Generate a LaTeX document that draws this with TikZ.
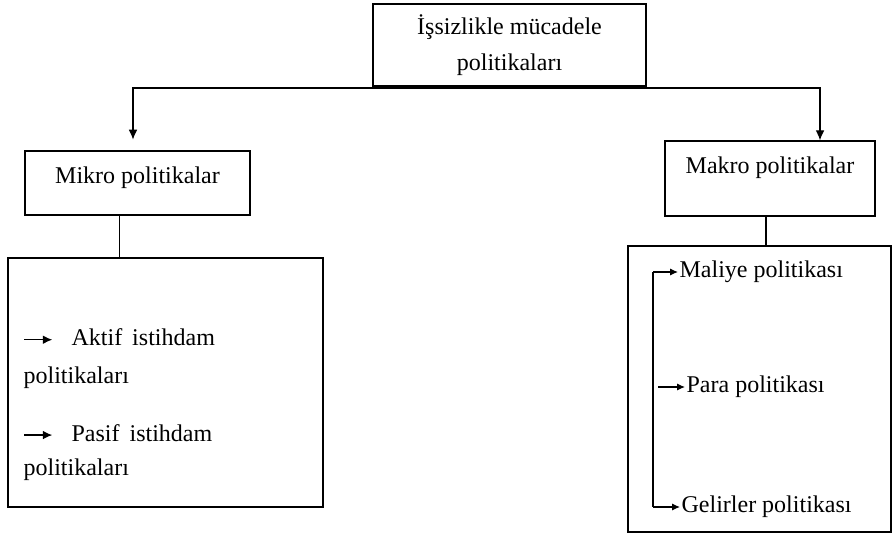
\documentclass[tikz,border=0pt]{standalone}
\usepackage{fontspec}
\setmainfont{Liberation Serif}
\usepackage{tikz}
\usetikzlibrary{calc}
\usetikzlibrary{positioning, arrows.meta}

\tikzset{
  box/.style={draw, line width=0.9pt, inner sep=0pt, align=center},
  item/.style={anchor=west, inner sep=1pt, align=left},
  arrow/.style={-{Latex[length=7.5pt,width=6.5pt]}, line width=0.9pt},
  itemarrow/.style={-{Latex[length=6pt,width=5.5pt]}, line width=0.9pt}
}
\newcommand{\listarrow}{\tikz[baseline=-4.5pt]\draw[-{Latex[length=7pt,width=6.5pt]}, line width=1pt] (0pt,0pt) -- (21pt,0pt);}

\begin{document}
\begin{tikzpicture}[x=0.75pt,y=0.75pt,yscale=-1,xscale=1,font=\fontsize{18}{26}\selectfont]
            \useasboundingbox (0,0) rectangle (893,534);

            %Shape: Rectangle [top]
            \node [box, minimum width=204.75pt, minimum height=61.5pt] (top) at (509.5,45) {İşsizlikle mücadele\\[1pt]politikaları};
            %Shape: Rectangle [mikro]
            \node [box, minimum width=168.75pt, minimum height=48pt, text height=13pt, text depth=12pt] (mikro) at (137.5,183) {Mikro politikalar};
            %Shape: Rectangle [makro]
            \node [box, minimum width=157.5pt, minimum height=56.25pt, text height=13pt, text depth=20pt] (makro) at (770,178.5) {Makro politikalar};
            %Shape: Rectangle [left list]
            \node [box, minimum width=236.25pt, minimum height=186.75pt] (leftlist) at (165.5,382.5) {};
            %Shape: Rectangle [right list]
            \node [box, minimum width=197.25pt, minimum height=214.5pt] (rightlist) at (759.5,389) {};

            %Straight Lines [branches]
            \coordinate (split) at (top.south);
            \draw [arrow, shorten >=8pt] (split) -- ++(0,1.5) -| (mikro.north -| 133,0);
            \draw [arrow] (split) -- ++(0,1.5) -| ([xshift=37.5pt]makro.north);
            \draw [line width=0.9pt] ([xshift=-13.5pt]mikro.south) -- ([xshift=-13.5pt]mikro.south |- leftlist.north);
            \draw [line width=0.9pt] ([xshift=-3pt]makro.south) -- ([xshift=-3pt]makro.south |- rightlist.north);

            % Text Node
            \node [item] (aktif) at (22,358.5) {\listarrow\hspace{14pt}Aktif\hspace{7.5pt}istihdam\\[2pt]politikaları};
            % Text Node
            \node [item] (pasif) at (22,452.5) {\listarrow\hspace{14pt}Pasif\hspace{7.5pt}istihdam\\[0pt]politikaları};

            % Text Node
            \node [item] (maliye) at (678,272) {Maliye politikası};
            % Text Node
            \node [item] (para) at (685,387) {Para politikası};
            % Text Node
            \node [item] (gelir) at (680,507) {Gelirler politikası};

            %Straight Lines [bracket]
            \coordinate (bar) at (653,0);
            \draw [line width=0.9pt] (maliye.west -| bar) -- (gelir.west -| bar);
            \draw [itemarrow] (maliye.west -| bar) -- (maliye.west);
            \draw [itemarrow] ([xshift=-20pt]para.west) -- (para.west);
            \draw [itemarrow] (gelir.west -| bar) -- (gelir.west);
\end{tikzpicture}
\end{document}
